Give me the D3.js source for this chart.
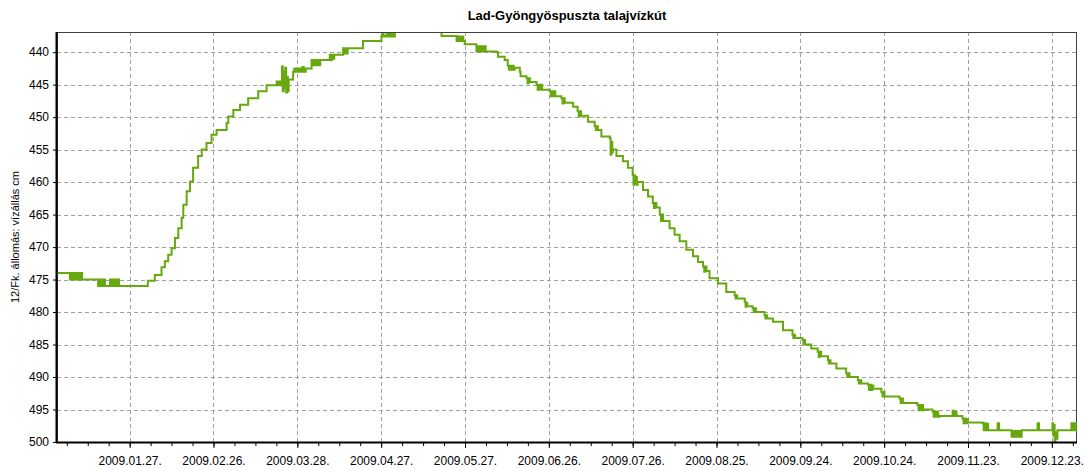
<!DOCTYPE html>
<html>
<head>
<meta charset="utf-8">
<script src="https://cdn.jsdelivr.net/npm/d3@7"></script>
<style>
  body { margin: 0; background: #fff; }
  svg { display: block; font-family: "Liberation Sans", Arial, sans-serif; }
</style>
</head>
<body>
<svg id="chart"></svg>
<script>
// chart texts
var title = "Lad-Gyöngyöspuszta talajvízkút";
var yLabel = "12/Fk. állomás: vízállás cm";

// gridline dates (x axis labels) and y ticks
var tickDates = ["2009-01-27", "2009-02-26", "2009-03-28", "2009-04-27", "2009-05-27", "2009-06-26",
  "2009-07-26", "2009-08-25", "2009-09-24", "2009-10-24", "2009-11-23", "2009-12-23"];
var yTicks = [440, 445, 450, 455, 460, 465, 470, 475, 480, 485, 490, 495, 500];

// readings: day of 2009 (fractional) and water level in cm (step series)
var day = [
  0, 4.6, 5.0, 5.4, 5.8, 6.3, 6.7, 7.2, 7.6, 8.1, 8.5, 9.0,
  14.7, 15.1, 15.5, 15.9, 16.3, 16.7, 17.2, 19.0, 19.4, 19.8, 20.2, 20.9, 21.3, 21.8, 22.2,
  32.5, 35.0, 37.4, 38.6, 39.8, 41.0, 42.2, 43.4, 44.6, 45.2, 46.4, 47.6, 48.7, 50.5, 51.8,
  53.5, 55.3, 57.1, 60.7, 61.3, 63.1, 65.5, 68.4, 72.0, 75.0,
  78.6, 79.0, 79.4, 79.8, 80.2,
  80.5, 80.8, 81.1, 81.4, 81.7, 82.0, 82.3, 82.6, 82.9,
  84.5, 84.9, 85.3, 85.7, 86.2, 86.6, 87.3, 87.8, 88.3, 89.0,
  91.1, 91.5, 91.9, 92.4, 92.9, 93.6, 94.2,
  97.6, 98.0, 98.4, 98.8, 99.2,
  102.4, 102.8, 103.2, 103.6, 104.0,
  109.5,
  116.1, 116.5, 116.9, 117.6, 118.0, 118.4, 119.0, 119.4, 120.0, 120.4, 120.9,
  137.6,
  143.0, 143.4, 143.8, 144.2, 144.6, 145.0, 145.4, 145.9,
  150.1, 150.5, 150.9, 151.3, 151.8, 152.2, 152.6, 153.0, 153.4,
  157.3, 157.8, 160.2,
  161.3, 161.7, 162.1, 162.5, 163.0, 163.4, 163.8,
  165.6, 165.9,
  168.0, 168.4, 168.8, 169.2,
  171.6, 172.0, 172.4, 172.8, 173.2, 173.6,
  176.3, 176.7, 177.1, 177.5, 177.9, 178.3,
  180.5, 180.9, 181.3, 181.7,
  184.7,
  186.3, 186.7, 187.1, 187.5,
  190.0,
  192.4, 192.8, 193.2, 193.5,
  194.8,
  197.8, 198.1, 198.4, 198.7, 198.9,
  200.2, 202.5, 204.3,
  206.0, 206.3, 206.6, 206.9, 207.2, 207.5, 207.8,
  209.7, 211.5,
  213.2, 213.6, 214.0, 214.5,
  215.7, 216.1, 216.5, 216.9, 217.5,
  219.2, 221.0, 222.8, 225.2, 227.6, 229.4,
  231.2, 231.6, 232.0, 232.4,
  233.5, 236.5, 239.5,
  242.5, 242.8, 243.1, 243.4,
  246.1, 246.4, 246.7, 247.0,
  248.9, 249.3, 249.7, 250.1,
  253.2, 253.5, 253.8, 254.1,
  256.2, 259.8,
  263.2, 263.5, 263.8, 264.1,
  266.8, 267.1, 267.4, 267.7,
  269.9,
  272.2, 272.6, 273.0, 273.4,
  275.9, 276.2, 276.5, 276.8,
  278.9,
  282.4, 282.8, 283.2, 283.6,
  286.6, 287.0, 287.4, 287.8,
  290.2, 290.6, 291.0, 291.4, 291.8, 292.1,
  295.0, 295.4, 295.8, 296.1,
  301.5, 301.9, 302.3, 302.7,
  307.9, 308.3, 308.7, 309.1, 309.5, 309.9, 310.4,
  313.3, 313.7, 314.1, 314.5, 314.9, 315.3, 315.8,
  320.5, 320.9, 321.3, 321.9,
  324.0, 324.4, 324.8, 325.2, 325.6, 325.9,
  331.2, 331.6, 332.0, 332.4, 332.8, 333.2,
  336.6, 337.1,
  341.6, 342.0, 342.4, 342.8, 343.2, 343.6, 344.0, 344.4, 344.8, 345.2,
  350.9, 351.4,
  356.2, 356.5, 356.8, 357.0, 357.3, 357.6, 358.0,
  363.0, 363.4, 363.8, 364.2, 364.6, 365
];
var level = [
  474, 475, 474, 475, 474, 475, 474, 475, 474, 475, 474, 475,
  476, 475, 476, 475, 476, 475, 476, 475, 476, 475, 476, 475, 476, 475, 476,
  475.2, 474.3, 473.1, 472.2, 471.2, 470.2, 468.6, 467.1, 465.5, 463.5, 461.4, 459.9, 457.8, 456.0, 455.0,
  454.0, 452.7, 452.0, 450.9, 449.9, 448.9, 448.1, 447.1, 446.0, 445.1,
  444.5, 445.1, 444.5, 445.1, 444.5,
  442.2, 446, 443, 445.5, 442.4, 446.2, 443.8, 446, 444.2,
  443, 442.5, 443, 442.5, 443, 442.5, 443, 442.3, 443, 442.5,
  441.2, 442, 441.2, 442, 441.2, 442, 441.2,
  440.4, 441.2, 440.4, 441, 440.4,
  439.4, 440.2, 439.4, 440.2, 439.4,
  438.3,
  437.5, 436.5, 437.6, 437.5, 436, 437.6, 436, 437.6, 436.3, 437.6, 436,
  437.5,
  438.3, 437.6, 438.3, 437.6, 438.3, 437.6, 438.3, 438.8,
  439.9, 439.1, 439.9, 439.1, 439.9, 439.1, 439.9, 439.1, 439.9,
  440, 440.7, 441.2,
  442.1, 442.7, 442.1, 442.7, 442.1, 442.7, 442.4,
  443, 443.7,
  444, 444.8, 444, 444.6,
  445, 445.8, 445, 445.8, 445, 445.8,
  446, 446.8, 446, 446.8, 446, 446.8,
  447.1, 447.9, 447.1, 447.8,
  448.4,
  449.1, 449.9, 449.1, 449.8,
  450.7,
  451.4, 452, 451.4, 452,
  453,
  453.2, 455.8, 453.8, 455.4, 455,
  456, 456.8, 457.8,
  458.9, 460.4, 459, 460.3, 459.2, 460.4, 460,
  461.2, 462.2,
  463.2, 464, 463.2, 463.9,
  465, 466, 465, 466, 466,
  467.1, 468.1, 469.1, 470.4, 471.4, 472.3,
  473, 473.8, 473, 473.7,
  474.8, 475.6, 476.9,
  477.4, 477.9, 477.4, 477.9,
  478.4, 479.2, 478.6, 479.1,
  479.4, 480, 479.4, 480,
  480.5, 481, 480.5, 481,
  481.5, 482.8,
  483.5, 484, 483.5, 484,
  484.3, 485, 484.3, 485,
  485.6,
  486.1, 486.9, 486.1, 486.8,
  487.4, 487.9, 487.4, 487.9,
  488.7,
  489.4, 490, 489.4, 490,
  490.5, 491, 490.5, 491,
  491.2, 492, 491.2, 492, 491.3, 491.8,
  492.3, 493, 492.3, 493,
  493.3, 494, 493.3, 494,
  494.3, 495.1, 494.3, 495.1, 494.3, 495.1, 495,
  495.3, 496.1, 495.3, 496.1, 495.3, 496.1, 496,
  495.2, 496, 495.4, 496,
  496.4, 497.1, 496.4, 497.1, 496.5, 497,
  497.1, 498.2, 497.1, 498.2, 497.2, 498.2,
  497.1, 498.2,
  499.2, 498.3, 499.2, 498.3, 499.2, 498.3, 499.2, 498.3, 499.2, 498.2,
  497.1, 498.2,
  497.1, 499, 497.4, 500, 498.5, 499.5, 498.2,
  497.1, 498.2, 497.1, 498.2, 497.1, 497.1
];

var width = 1086, height = 471;
var margin = { top: 32, right: 9, bottom: 29, left: 57 };

var svg = d3.select("#chart")
  .attr("width", width)
  .attr("height", height);

var start = new Date(2009, 0, 1);
function toDate(d) { return new Date(start.getTime() + d * 864e5); }

var data = day.map(function(d, i) { return { date: toDate(d), value: level[i] }; });

var x = d3.scaleTime()
  .domain([start, new Date(2010, 0, 1)])
  .range([margin.left, width - margin.right]);

var y = d3.scaleLinear()
  .domain([436.9, 500])
  .range([margin.top, height - margin.bottom]);

var parse = d3.timeParse("%Y-%m-%d");
var fmt = d3.timeFormat("%Y.%m.%d.");
var majors = tickDates.map(parse);

// minor ticks every 7.5 days between gridlines
var minors = [];
var first = majors[0].getTime() - 30 * 864e5;
for (var t = first; t <= x.domain()[1].getTime(); t += 7.5 * 864e5) {
  if (t >= start.getTime()) minors.push(new Date(t));
}

var x0 = margin.left, x1 = width - margin.right;
var y0 = margin.top, y1 = height - margin.bottom;

// grid
var grid = svg.append("g")
  .attr("stroke", "#a0a0a0")
  .attr("stroke-width", 1)
  .attr("stroke-dasharray", "4,3");

grid.selectAll("line.h")
  .data(yTicks.filter(function(v) { return v < 500; }))
  .enter().append("line")
  .attr("class", "h")
  .attr("x1", x0).attr("x2", x1)
  .attr("y1", function(d) { return Math.round(y(d)) + 0.5; })
  .attr("y2", function(d) { return Math.round(y(d)) + 0.5; });

grid.selectAll("line.v")
  .data(majors)
  .enter().append("line")
  .attr("class", "v")
  .attr("y1", y0).attr("y2", y1)
  .attr("x1", function(d) { return Math.round(x(d)) + 0.5; })
  .attr("x2", function(d) { return Math.round(x(d)) + 0.5; });

// border (top/right thin)
svg.append("rect")
  .attr("x", x0 + 0.5).attr("y", y0 + 0.5)
  .attr("width", x1 - x0 - 1).attr("height", y1 - y0)
  .attr("fill", "none")
  .attr("stroke", "#404040")
  .attr("stroke-width", 1);

// line
svg.append("clipPath").attr("id", "clip")
  .append("rect")
  .attr("x", x0).attr("y", y0 + 1)
  .attr("width", x1 - x0).attr("height", y1 - y0);

var line = d3.line()
  .x(function(d) { return x(d.date); })
  .y(function(d) { return y(d.value); })
  .curve(d3.curveStepAfter);

svg.append("path")
  .datum(data)
  .attr("clip-path", "url(#clip)")
  .attr("fill", "none")
  .attr("stroke", "#66a80e")
  .attr("stroke-width", 2)
  .attr("stroke-linejoin", "miter")
  .attr("d", line);

// axes
var xAxis = svg.append("g")
  .attr("transform", "translate(0," + y1 + ")")
  .call(d3.axisBottom(x).tickValues(majors).tickFormat(fmt).tickSize(6).tickPadding(8));

svg.append("g")
  .attr("transform", "translate(0," + y1 + ")")
  .call(d3.axisBottom(x).tickValues(minors).tickFormat("").tickSize(4))
  .call(function(g) { g.select(".domain").remove(); });

var yAxis = svg.append("g")
  .attr("transform", "translate(" + x0 + ",0)")
  .call(d3.axisLeft(y).tickValues(yTicks).tickSize(4).tickPadding(4));

[xAxis, yAxis].forEach(function(g) {
  g.selectAll("text").attr("font-size", 12).attr("fill", "#000")
    .attr("font-family", "'Liberation Sans', Arial, sans-serif");
  g.select(".domain").remove();
});

svg.append("line")
  .attr("x1", x0 - 1).attr("x2", x1)
  .attr("y1", y1 + 0.5).attr("y2", y1 + 0.5)
  .attr("stroke", "#000").attr("stroke-width", 2);
svg.append("line")
  .attr("x1", x0 - 0.5).attr("x2", x0 - 0.5)
  .attr("y1", y0).attr("y2", y1 + 1)
  .attr("stroke", "#000").attr("stroke-width", 2);

// title
svg.append("text")
  .attr("x", (x0 + x1) / 2)
  .attr("y", 20)
  .attr("text-anchor", "middle")
  .attr("font-size", 13)
  .attr("font-weight", "bold")
  .text(title);

// y label
svg.append("text")
  .attr("transform", "translate(19," + ((y0 + y1) / 2) + ") rotate(-90)")
  .attr("text-anchor", "middle")
  .attr("font-size", 11)
  .text(yLabel);
</script>
</body>
</html>
